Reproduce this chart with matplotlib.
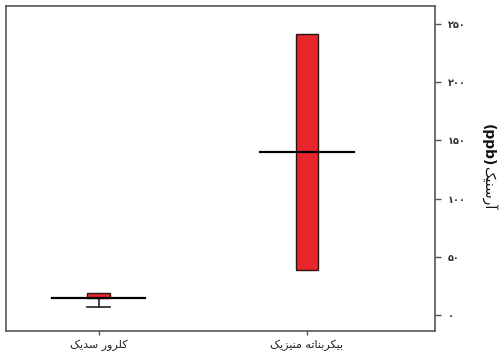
import matplotlib
matplotlib.use("Agg")
from matplotlib import pyplot as plt
from matplotlib.ticker import FixedLocator

# data
categories = ["کلرور سدیک", "بیکربناته منیزیک"]
box_low = [14.6, 38.7]
box_high = [19.2, 241.4]
centre = [14.6, 140.0]
whisker_low = [6.9, None]
y_ticks = [0, 50, 100, 150, 200, 250]
y_label_word = "آرسنیک"
y_label_unit = "(ppb)"

# minimal arabic shaping, matplotlib has no bidi/shaping of its own
FORMS = {
	"ا": ("\ufe8d", "\ufe8e", None, None),
	"آ": ("\ufe81", "\ufe82", None, None),
	"ب": ("\ufe8f", "\ufe90", "\ufe91", "\ufe92"),
	"ت": ("\ufe95", "\ufe96", "\ufe97", "\ufe98"),
	"د": ("\ufea9", "\ufeaa", None, None),
	"ر": ("\ufead", "\ufeae", None, None),
	"ز": ("\ufeaf", "\ufeb0", None, None),
	"س": ("\ufeb1", "\ufeb2", "\ufeb3", "\ufeb4"),
	"ل": ("\ufedd", "\ufede", "\ufedf", "\ufee0"),
	"م": ("\ufee1", "\ufee2", "\ufee3", "\ufee4"),
	"ن": ("\ufee5", "\ufee6", "\ufee7", "\ufee8"),
	"ه": ("\ufee9", "\ufeea", "\ufeeb", "\ufeec"),
	"و": ("\ufeed", "\ufeee", None, None),
	"ک": ("\ufb8e", "\ufb8f", "\ufb90", "\ufb91"),
	"ی": ("\ufbfc", "\ufbfd", "\ufbfe", "\ufbff"),
}

def joins_next(c):
	return c in FORMS and FORMS[c][2] is not None

def shape(word):
	out = []
	for i, c in enumerate(word):
		if c not in FORMS:
			out.append(c)
			continue
		prev = word[i - 1] if i > 0 else None
		nxt = word[i + 1] if i + 1 < len(word) else None
		from_prev = prev is not None and joins_next(prev)
		to_next = nxt is not None and nxt in FORMS and joins_next(c)
		iso, fin, ini, med = FORMS[c]
		if from_prev and to_next:
			out.append(med)
		elif from_prev:
			out.append(fin)
		elif to_next:
			out.append(ini)
		else:
			out.append(iso)
	return "".join(out)

def rtl(text):
	return " ".join(shape(w) for w in text.split(" "))[::-1]

def fa_digits(n):
	return "".join(chr(0x06F0 + int(d)) for d in str(n))

plt.rcParams['font.family'] = ['DejaVu Sans']
edge = "#555555"

fig = plt.figure(figsize=(4.99, 3.56), dpi=100)
ax = fig.add_axes([6 / 499, 1 - 331 / 356, 429 / 499, 325 / 356])

xs = list(range(len(categories)))
bar_w = 0.11
line_w = 0.45

for i in xs:
	if whisker_low[i] is not None:
		ax.plot([i, i], [whisker_low[i], box_low[i]], color="#222222", lw=1.2, zorder=2)
		ax.plot([i - bar_w / 2, i + bar_w / 2], [whisker_low[i], whisker_low[i]], color="#222222", lw=1.2, zorder=2)
	ax.bar(i, box_high[i] - box_low[i], bottom=box_low[i], width=bar_w,
		color="#e8262b", edgecolor="#2a1515", linewidth=1.0, zorder=3)
	ax.plot([i - line_w / 2, i + line_w / 2], [centre[i], centre[i]], color="black", lw=1.6, zorder=4)

ax.set_xlim(-0.444, 1.614)
ax.set_ylim(-13.7, 265.5)

ax.set_xticks(xs)
ax.set_xticklabels([rtl(c) for c in categories], fontsize=8, color="#222222")
ax.tick_params(axis="x", length=3, width=1, color=edge, pad=3)

ax.yaxis.tick_right()
ax.set_yticks(y_ticks)
ax.set_yticklabels([fa_digits(t) for t in y_ticks], fontsize=7, fontweight="bold", color="#333333")
ax.tick_params(axis="y", right=True, length=4, width=1, color=edge, pad=5)
ax.yaxis.set_minor_locator(FixedLocator(y_ticks))
ax.tick_params(axis="y", which="minor", left=True, right=False, length=2, width=1, color=edge, direction="out")

# axis title: bold unit, plain word, read top to bottom
ax.text(1.1235, 0.572, y_label_unit, transform=ax.transAxes, rotation=270,
	ha="center", va="center", fontsize=10, fontweight="bold", color="#111111")
ax.text(1.1235, 0.44, rtl(y_label_word), transform=ax.transAxes, rotation=270,
	ha="center", va="center", fontsize=10, color="#111111")

for s in ax.spines.values():
	s.set_color(edge)
	s.set_linewidth(1.2)

fig.savefig("out.png", dpi=100)
